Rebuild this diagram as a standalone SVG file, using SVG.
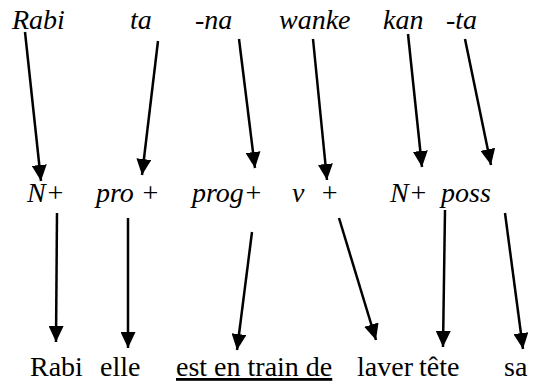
<svg xmlns="http://www.w3.org/2000/svg" width="540" height="385" viewBox="0 0 540 385">
<defs>
<marker id="ah" markerUnits="userSpaceOnUse" markerWidth="17" markerHeight="15" refX="16" refY="7.5" orient="auto">
<path d="M0,0 L16,7.5 L0,15 z" fill="#000"/>
</marker>
</defs>
<rect width="540" height="385" fill="#fff"/>
<g id="t-rabi"><text x="12" y="29" style="font-family:'Liberation Serif',serif;font-size:28px;font-style:italic">Rabi</text></g>
<g id="t-ta"><text x="130" y="29" style="font-family:'Liberation Serif',serif;font-size:28px;font-style:italic">ta</text></g>
<g id="t-na"><text x="195" y="29" style="font-family:'Liberation Serif',serif;font-size:28px;font-style:italic">-na</text></g>
<g id="t-wanke"><text x="279" y="29" style="font-family:'Liberation Serif',serif;font-size:28px;font-style:italic">wanke</text></g>
<g id="t-kan"><text x="383" y="29" style="font-family:'Liberation Serif',serif;font-size:28px;font-style:italic">kan</text></g>
<g id="t-ta2"><text x="446" y="29" style="font-family:'Liberation Serif',serif;font-size:28px;font-style:italic">-ta</text></g>
<g id="m-n"><text x="27" y="202" style="font-family:'Liberation Serif',serif;font-size:28px;font-style:italic">N+</text></g>
<g id="m-pro"><text x="96" y="202" style="font-family:'Liberation Serif',serif;font-size:28px;font-style:italic">pro +</text></g>
<g id="m-prog"><text x="192" y="202" style="font-family:'Liberation Serif',serif;font-size:28px;font-style:italic">prog+</text></g>
<g id="m-v"><text x="292" y="202" style="font-family:'Liberation Serif',serif;font-size:28px;font-style:italic">v</text></g>
<g id="m-plus"><text x="320" y="202" style="font-family:'Liberation Serif',serif;font-size:28px;font-style:italic">+</text></g>
<g id="m-n2"><text x="390" y="202" style="font-family:'Liberation Serif',serif;font-size:28px;font-style:italic">N+</text></g>
<g id="m-poss"><text x="441" y="202" style="font-family:'Liberation Serif',serif;font-size:28px;font-style:italic">poss</text></g>
<g id="b-rabi"><text x="30" y="376" style="font-family:'Liberation Serif',serif;font-size:28px">Rabi</text></g>
<g id="b-elle"><text x="100" y="376" style="font-family:'Liberation Serif',serif;font-size:28px">elle</text></g>
<g id="b-est"><text x="176" y="376" style="font-family:'Liberation Serif',serif;font-size:28px;text-decoration:underline">est en train de</text></g>
<g id="b-laver"><text x="357" y="376" style="font-family:'Liberation Serif',serif;font-size:28px">laver</text></g>
<g id="b-tete"><text x="419" y="376" style="font-family:'Liberation Serif',serif;font-size:28px">t&#234;te</text></g>
<g id="b-sa"><text x="504" y="376" style="font-family:'Liberation Serif',serif;font-size:28px">sa</text></g>
<g id="connectors" stroke="#000" stroke-width="2.5" marker-end="url(#ah)">
<line x1="25" y1="32" x2="41" y2="181" marker-end="url(#ah)"/>
<line x1="158" y1="41" x2="142" y2="175" marker-end="url(#ah)"/>
<line x1="239" y1="39" x2="255" y2="168" marker-end="url(#ah)"/>
<line x1="313" y1="39" x2="327" y2="180" marker-end="url(#ah)"/>
<line x1="408" y1="34" x2="422" y2="167" marker-end="url(#ah)"/>
<line x1="465" y1="39" x2="491" y2="165" marker-end="url(#ah)"/>
<line x1="57" y1="213" x2="56" y2="342" marker-end="url(#ah)"/>
<line x1="128" y1="218" x2="128" y2="348" marker-end="url(#ah)"/>
<line x1="252" y1="232" x2="237" y2="350" marker-end="url(#ah)"/>
<line x1="339" y1="218" x2="376" y2="340" marker-end="url(#ah)"/>
<line x1="445" y1="210" x2="443" y2="347" marker-end="url(#ah)"/>
<line x1="505" y1="213" x2="523" y2="349" marker-end="url(#ah)"/>
</g>
</svg>
